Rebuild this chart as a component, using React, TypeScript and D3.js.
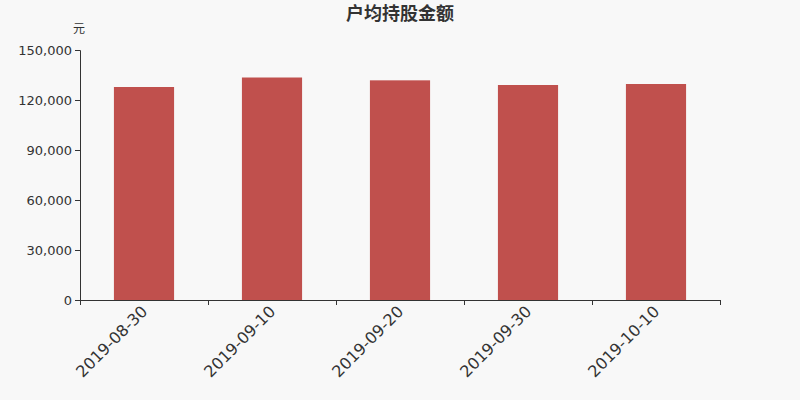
import { useEffect, useRef } from 'react'
import * as d3 from 'd3'

const categories = ['2019-08-30', '2019-09-10', '2019-09-20', '2019-09-30', '2019-10-10']
const values = [127800, 133500, 131800, 129000, 129600]
const yTicks = [0, 30000, 60000, 90000, 120000, 150000]

const width = 800
const height = 400
const margin = { top: 50, right: 80, bottom: 100, left: 80 }

export default function App() {
  const svgRef = useRef<SVGSVGElement>(null)

  useEffect(() => {
    if (!svgRef.current) return
    const svg = d3.select(svgRef.current)
    svg.selectAll('*').remove()

    const font = '"DejaVu Sans", "Noto Sans CJK SC", sans-serif'
    const innerW = width - margin.left - margin.right
    const innerH = height - margin.top - margin.bottom

    svg.append('rect').attr('width', width).attr('height', height).attr('fill', '#f8f8f8')

    const x = d3.scaleBand<string>().domain(categories).range([0, innerW]).paddingInner(0.53).paddingOuter(0.265)
    const band = d3.scaleBand<string>().domain(categories).range([0, innerW])
    const y = d3.scaleLinear().domain([0, 150000]).range([innerH, 0])

    const g = svg.append('g').attr('transform', `translate(${margin.left},${margin.top})`)

    // bars
    g.selectAll('.bar')
      .data(values)
      .enter()
      .append('rect')
      .attr('x', (_, i) => band(categories[i])! + band.bandwidth() / 2 - x.bandwidth() / 2)
      .attr('y', (d) => y(d))
      .attr('width', x.bandwidth())
      .attr('height', (d) => innerH - y(d))
      .attr('fill', '#c0504d')

    // y axis
    const yAxis = g.append('g').call(
      d3.axisLeft(y).tickValues(yTicks).tickSize(5).tickPadding(3).tickFormat((d) => d3.format(',')(d as number))
    )
    yAxis.select('.domain').attr('stroke', '#333').attr('d', `M-5,0.5H0.5V${innerH}`)
    yAxis.selectAll('line').attr('stroke', '#333')
    yAxis.selectAll('text').attr('fill', '#333').attr('font-size', '13px').attr('font-family', font)

    // x axis
    const xAxis = g
      .append('g')
      .attr('transform', `translate(0,${innerH})`)
      .call(d3.axisBottom(band).tickSize(0).tickFormat(() => ''))
    xAxis.select('.domain').attr('stroke', '#333').attr('d', `M0.5,0.5H${innerW + 0.5}`)
    xAxis.selectAll('.tick').remove()

    const tickXs = d3.range(categories.length + 1).map((i) => i * band.step())
    g.selectAll('.xtick')
      .data(tickXs)
      .enter()
      .append('line')
      .attr('x1', (d) => d + 0.5)
      .attr('x2', (d) => d + 0.5)
      .attr('y1', innerH)
      .attr('y2', innerH + 5)
      .attr('stroke', '#333')

    g.selectAll('.xlabel')
      .data(categories)
      .enter()
      .append('text')
      .attr('transform', (d) => `translate(${band(d)! + band.bandwidth() / 2 - 4},${innerH + 4}) rotate(-45)`)
      .attr('text-anchor', 'end')
      .attr('dy', '0.75em')
      .attr('fill', '#333')
      .attr('font-size', '16px')
      .attr('font-family', font)
      .text((d) => d)

    // title and unit
    svg.append('text')
      .attr('x', width / 2)
      .attr('y', 20)
      .attr('text-anchor', 'middle')
      .attr('fill', '#333')
      .attr('font-size', '18px')
      .attr('font-weight', 'bold')
      .attr('font-family', font)
      .text('户均持股金额')

    svg.append('text')
      .attr('x', 79)
      .attr('y', 33)
      .attr('text-anchor', 'middle')
      .attr('fill', '#333')
      .attr('font-size', '12px')
      .attr('font-family', font)
      .text('元')
  }, [])

  return (
    <svg
      ref={svgRef}
      width={width}
      height={height}
      style={{ position: 'absolute', left: 0, top: 0, display: 'block' }}
    />
  )
}
